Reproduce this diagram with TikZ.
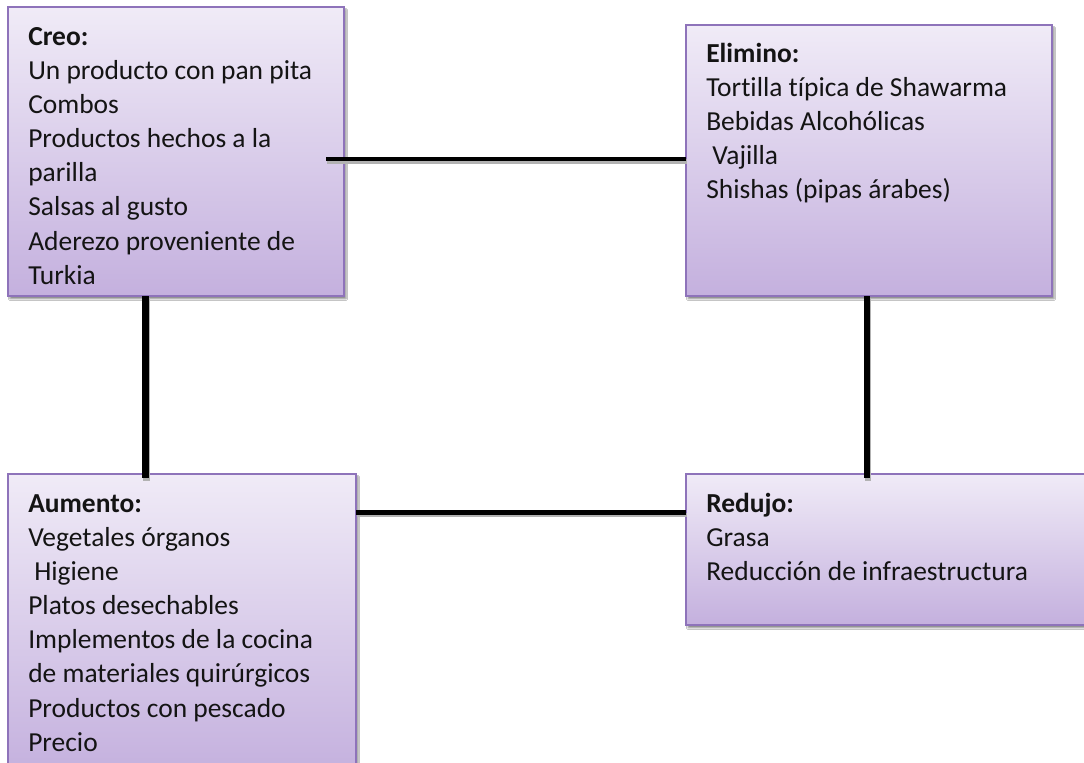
\documentclass[tikz,border=0pt]{standalone}
\usepackage{fontspec}
\setmainfont[Ligatures=NoCommon]{Carlito}
\usetikzlibrary{shadows.blur}
\definecolor{boxtop}{HTML}{F0EBF7}
\definecolor{boxbot}{HTML}{C4B0DE}
\definecolor{boxborder}{HTML}{8E73BA}
\definecolor{txtcol}{HTML}{141414}
\begin{document}
\begin{tikzpicture}[x=0.75pt,y=-0.75pt,
  box/.style={rectangle, draw=boxborder, line width=1.5pt, top color=boxtop, bottom color=boxbot,
    anchor=north west, outer sep=0pt, inner sep=0pt,
    blur shadow={shadow xshift=1.5pt, shadow yshift=-2.2pt, shadow blur steps=4, shadow opacity=45, shadow blur radius=1.2pt}},
  txt/.style={anchor=north west, align=left, inner sep=0pt, text=txtcol,
    font=\fontsize{20.6pt}{25.6pt}\selectfont},
  conn/.style={draw=black, line width=#1,
    preaction={draw=black!30, line width=#1, transform canvas={shift={(0.8pt,-2pt)}}}},
  conn/.default=3.4pt
]
\useasboundingbox (0,0) rectangle (1084,763);
\clip (0,0) rectangle (1084,763);
\fill[white] (0,0) rectangle (1084,763);

% boxes
\node[box, minimum width=252pt, minimum height=216.75pt] (creo) at (8,7) {};
\node[box, minimum width=274.5pt, minimum height=203.25pt] (elimino) at (686,25) {};
\node[box, minimum width=261pt, minimum height=225.75pt] (aumento) at (8,474) {};
\node[box, minimum width=306.75pt, minimum height=113.25pt] (redujo) at (686,474) {};

% texts
\node[txt] (creotxt) at ([shift={(20,12)}]creo.north west)
  {\rule{0pt}{19.5pt}\textbf{Creo:}\\Un producto con pan pita\\Combos\\Productos hechos a la\\parilla\\Salsas al gusto\\Aderezo proveniente de\\Turkia};
\node[txt] (elimtxt) at ([shift={(20,11)}]elimino.north west)
  {\rule{0pt}{19.5pt}\textbf{Elimino:}\\Tortilla típica de Shawarma\\Bebidas Alcohólicas\\\hspace*{0.22em}Vajilla\\Shishas (pipas árabes)};
\node[txt] (aumtxt) at ([shift={(20,12)}]aumento.north west)
  {\rule{0pt}{19.5pt}\textbf{Aumento:}\\Vegetales órganos\\\hspace*{0.22em}Higiene\\Platos desechables\\Implementos de la cocina\\de materiales quirúrgicos\\Productos con pescado\\Precio};
\node[txt] (redtxt) at ([shift={(20,12)}]redujo.north west)
  {\rule{0pt}{19.5pt}\textbf{Redujo:}\\Grasa\\Reducción de infraestructura};

% connectors
\coordinate (ct) at (326,159);
\draw[conn] (ct) -- (ct -| elimino.west);
\coordinate (cl) at (145.5,478);
\draw[conn=4.8pt] (creo.south -| cl) -- (cl);
\coordinate (cr) at (867,478);
\draw[conn=4.8pt] (elimino.south -| cr) -- (cr);
\coordinate (cb) at (0,512.5);
\draw[conn] (aumento.east |- cb) -- (redujo.west |- cb);
\end{tikzpicture}
\end{document}
